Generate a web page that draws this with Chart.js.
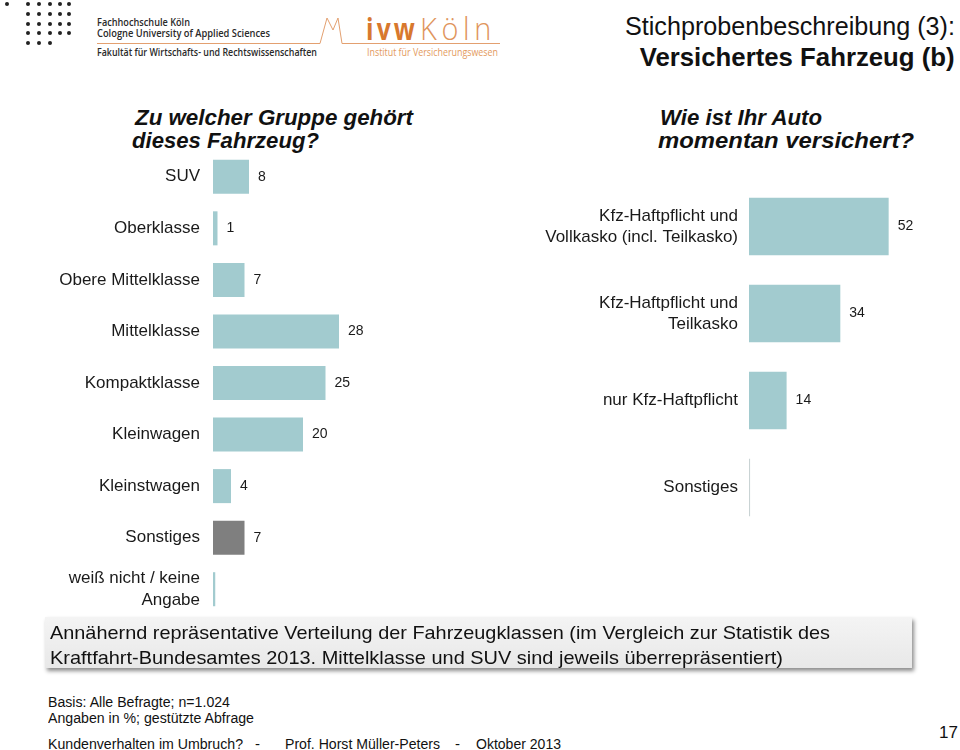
<!DOCTYPE html>
<html>
<head>
<meta charset="utf-8">
<script src="https://cdn.jsdelivr.net/npm/chart.js@4.4.1/dist/chart.umd.min.js"></script>
<style>
  body { margin: 0; background: #fff; }
  #page { position: relative; width: 960px; height: 750px; overflow: hidden; font-family: "Liberation Sans", Arial, sans-serif; color: #111; }
  .abs { position: absolute; white-space: nowrap; }
  .dot { position: absolute; width: 4px; height: 4px; border-radius: 50%; background: #222; }
  .logo { font-family: "Open Sans", sans-serif; color: #2a2a2a; font-size: 10.5px; line-height: 11px; font-weight: 600; }
  .sub { font-size: 22px; font-weight: bold; font-style: italic; line-height: 24px; }
  .fit { transform-origin: left center; }
  .fitr { transform-origin: right center; }
  canvas { position: absolute; }
</style>
</head>
<body>
<div id="page">
  <div id="dots"></div>
  <div class="abs logo fit" style="left:97px;top:17px;" data-w="93">Fachhochschule Köln</div>
  <div class="abs logo fit" style="left:97px;top:28px;" data-w="173">Cologne University of Applied Sciences</div>
  <div class="abs logo fit" style="left:97px;top:47px;" data-w="220">Fakultät für Wirtschafts- und Rechtswissenschaften</div>
  <svg class="abs" style="left:0;top:0;" width="520" height="70">
    <polyline points="97,43.5 320,43.5 327,18 333,30 338,18 342,43.5 500,43.5" fill="none" stroke="#e3a070" stroke-width="1"/>
  </svg>
  <div class="abs fit" style="left:366px;top:10px;font-family:'Open Sans',sans-serif;font-size:31px;line-height:36px;color:#d8782e;font-weight:bold;letter-spacing:4px;" data-w="52">ivw</div>
  <div class="abs fit" style="left:420px;top:10px;font-family:'Open Sans',sans-serif;font-size:31px;line-height:36px;color:#e0955c;font-weight:300;letter-spacing:5px;" data-w="76">Köln</div>
  <div class="abs fit" style="left:367px;top:47px;font-family:'Open Sans',sans-serif;font-size:10px;line-height:11px;color:#e39a60;" data-w="131">Institut für Versicherungswesen</div>

  <div class="abs fitr" style="right:5px;top:12px;font-size:25px;line-height:28px;" data-w="330">Stichprobenbeschreibung (3):</div>
  <div class="abs fitr" style="right:5px;top:43px;font-size:25px;line-height:28px;font-weight:bold;" data-w="315">Versichertes Fahrzeug (b)</div>

  <div class="abs sub fit" style="left:135px;top:106px;" data-w="278">Zu welcher Gruppe gehört</div>
  <div class="abs sub fit" style="left:132px;top:129px;" data-w="187">dieses Fahrzeug?</div>
  <div class="abs sub fit" style="left:660px;top:106px;" data-w="162">Wie ist Ihr Auto</div>
  <div class="abs sub fit" style="left:658px;top:129px;" data-w="256">momentan versichert?</div>

  <canvas id="vehicleChart" width="393" height="464" style="left:0;top:151px;"></canvas>
  <canvas id="insuranceChart" width="397" height="348" style="left:540px;top:183px;"></canvas>

  <div class="abs" style="left:45px;top:617px;width:867px;height:51px;background:linear-gradient(#f4f4f4,#e8e8e8);box-shadow:2px 3px 4px rgba(0,0,0,0.45);"></div>
  <div class="abs fit" style="left:50px;top:620px;font-size:19px;line-height:25px;" data-w="780">Annähernd repräsentative Verteilung der Fahrzeugklassen (im Vergleich zur Statistik des</div>
  <div class="abs fit" style="left:50px;top:645px;font-size:19px;line-height:25px;" data-w="733">Kraftfahrt-Bundesamtes 2013. Mittelklasse und SUV sind jeweils überrepräsentiert)</div>

  <div class="abs fit" style="left:48px;top:694px;font-size:14px;line-height:16px;" data-w="182">Basis: Alle Befragte; n=1.024</div>
  <div class="abs fit" style="left:48px;top:710px;font-size:14px;line-height:16px;" data-w="206">Angaben in %; gestützte Abfrage</div>
  <div class="abs fit" style="left:48px;top:735px;font-size:15px;line-height:17px;" data-w="195">Kundenverhalten im Umbruch?</div>
  <div class="abs" style="left:255px;top:735px;font-size:15px;line-height:17px;">-</div>
  <div class="abs fit" style="left:285px;top:735px;font-size:15px;line-height:17px;" data-w="155">Prof. Horst Müller-Peters</div>
  <div class="abs" style="left:455px;top:735px;font-size:15px;line-height:17px;">-</div>
  <div class="abs fit" style="left:476px;top:735px;font-size:15px;line-height:17px;" data-w="85">Oktober 2013</div>
  <div class="abs" style="left:939px;top:723px;font-size:17px;line-height:19px;">17</div>
</div>

<script>
// Daten: Fahrzeugklasse
const vehicleLabels = ['SUV', 'Oberklasse', 'Obere Mittelklasse', 'Mittelklasse', 'Kompaktklasse',
  'Kleinwagen', 'Kleinstwagen', 'Sonstiges', ['weiß nicht / keine', 'Angabe']];
const vehicleValues = [8, 1, 7, 28, 25, 20, 4, 7, 0.5];

// Daten: Versicherungsart
const insuranceLabels = [['Kfz-Haftpflicht und', 'Vollkasko (incl. Teilkasko)'], ['Kfz-Haftpflicht und', 'Teilkasko'],
  'nur Kfz-Haftpflicht', 'Sonstiges'];
const insuranceValues = [52, 34, 14, 0.4];

const teal = '#a2cbcf';
const grey = '#7f7f7f';

// logo dots
const dotRows = [[7, 28, 39, 50, 60, 69], [28, 39, 50, 60, 69], [28, 39, 50, 60, 69], [28, 39, 50, 60, 69], [28, 39, 50]];
const dotY = [4, 14, 24, 33, 43];
const dotsEl = document.getElementById('dots');
dotRows.forEach((row, r) => row.forEach(x => {
  const d = document.createElement('div');
  d.className = 'dot';
  d.style.left = (x - 2) + 'px';
  d.style.top = (dotY[r] - 2) + 'px';
  dotsEl.appendChild(d);
}));

// squeeze/stretch texts to the slide widths
document.querySelectorAll('.fit, .fitr').forEach(el => {
  const w = el.getBoundingClientRect().width;
  const target = +el.dataset.w;
  if (w > 0 && target) el.style.transform = 'scaleX(' + (target / w) + ')';
});

Chart.defaults.font.family = '"Liberation Sans", Arial, sans-serif';
Chart.defaults.color = '#1a1a1a';

// draws the numbers right of each bar
const valueLabels = {
  id: 'valueLabels',
  afterDatasetsDraw(chart) {
    const ctx = chart.ctx;
    const meta = chart.getDatasetMeta(0);
    const vals = chart.data.datasets[0].data;
    ctx.save();
    ctx.font = '14px "Liberation Sans", Arial, sans-serif';
    ctx.fillStyle = '#1a1a1a';
    ctx.textAlign = 'left';
    ctx.textBaseline = 'middle';
    meta.data.forEach((bar, i) => {
      if (vals[i] < 1) return; // below 1% no label
      ctx.fillText(String(vals[i]), bar.x + 9, bar.y);
    });
    ctx.restore();
  }
};

function makeBars(id, labels, values, colors, axisWidth, pad, max) {
  return new Chart(document.getElementById(id), {
    type: 'bar',
    data: {
      labels: labels,
      datasets: [{
        data: values,
        backgroundColor: colors,
        borderWidth: 0,
        barPercentage: 0.66,
        categoryPercentage: 1
      }]
    },
    options: {
      indexAxis: 'y',
      responsive: false,
      animation: false,
      devicePixelRatio: 1,
      layout: { padding: 0 },
      plugins: { legend: { display: false }, tooltip: { enabled: false } },
      scales: {
        x: { display: false, min: 0, max: max },
        y: {
          grid: { display: false, drawTicks: false },
          border: { display: false },
          ticks: { font: { size: 17, lineHeight: 1.25 }, padding: pad, color: '#1a1a1a' },
          afterFit(s) { s.width = axisWidth; s.paddingTop = 0; s.paddingBottom = 0; }
        }
      }
    },
    plugins: [valueLabels]
  });
}

const vehicleColors = vehicleLabels.map(l => l === 'Sonstiges' ? grey : teal);
makeBars('vehicleChart', vehicleLabels, vehicleValues, vehicleColors, 213, 13, 40);
const insuranceColors = insuranceValues.map((v, i) => i === 3 ? '#c9d3d4' : teal);
makeBars('insuranceChart', insuranceLabels, insuranceValues, insuranceColors, 209, 11, 70);
</script>
</body>
</html>
